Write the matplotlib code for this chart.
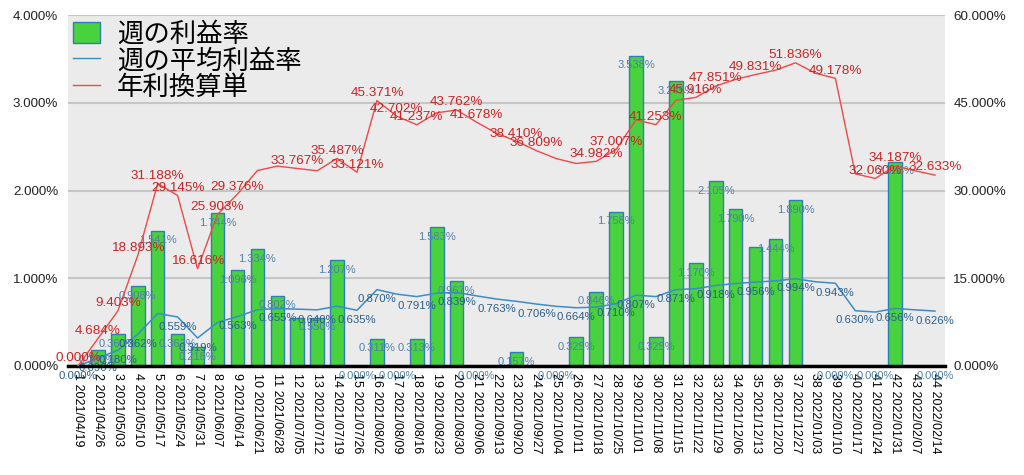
import matplotlib
matplotlib.use("Agg")
import matplotlib.pyplot as plt
from matplotlib.patches import Patch
from matplotlib.lines import Line2D

plt.rcParams['font.family'] = ['Liberation Sans', 'Noto Sans CJK JP', 'DejaVu Sans']

weeks = list(range(1, 45))
dates = ['2021/04/19', '2021/04/26', '2021/05/03', '2021/05/10', '2021/05/17', '2021/05/24',
         '2021/05/31', '2021/06/07', '2021/06/14', '2021/06/21', '2021/06/28', '2021/07/05',
         '2021/07/12', '2021/07/19', '2021/07/26', '2021/08/02', '2021/08/09', '2021/08/16',
         '2021/08/23', '2021/08/30', '2021/09/06', '2021/09/13', '2021/09/20', '2021/09/27',
         '2021/10/04', '2021/10/11', '2021/10/18', '2021/10/25', '2021/11/01', '2021/11/08',
         '2021/11/15', '2021/11/22', '2021/11/29', '2021/12/06', '2021/12/13', '2021/12/20',
         '2021/12/27', '2022/01/03', '2022/01/10', '2022/01/17', '2022/01/24', '2022/01/31',
         '2022/02/07', '2022/02/14']

# 週の利益率 (%)
weekly = [0.000, 0.180, 0.360, 0.908, 1.541, 0.363, 0.218, 1.744, 1.096, 1.334,
          0.802, 0.548, 0.550, 1.207, 0.000, 0.311, 0.000, 0.313, 1.583, 0.967,
          0.000, 0.000, 0.157, 0.000, 0.000, 0.325, 0.846, 1.758, 3.538, 0.325,
          3.245, 1.170, 2.105, 1.790, 1.355, 1.444, 1.890, 0.000, 0.000, 0.000,
          0.000, 2.328, 0.000, 0.000]

# 週の平均利益率 (%)
avg = [0.000, 0.090, 0.180, 0.362, 0.598, 0.559, 0.319, 0.497, 0.563, 0.641,
       0.655, 0.648, 0.640, 0.681, 0.635, 0.870, 0.819, 0.791, 0.830, 0.839,
       0.799, 0.763, 0.737, 0.706, 0.680, 0.664, 0.671, 0.710, 0.807, 0.791,
       0.871, 0.881, 0.918, 0.940, 0.956, 0.970, 0.994, 0.960, 0.943, 0.630,
       0.615, 0.656, 0.640, 0.626]

# 年利換算単 (%)
annual = [0.000, 4.684, 9.403, 18.893, 31.188, 29.145, 16.616, 25.903, 29.376, 33.410,
          34.170, 33.767, 33.370, 35.487, 33.121, 45.371, 42.702, 41.237, 43.280, 43.762,
          41.678, 39.780, 38.410, 36.809, 35.450, 34.620, 34.982, 37.007, 42.080, 41.253,
          45.410, 45.916, 47.851, 49.010, 49.831, 50.570, 51.836, 50.050, 49.178, 32.850,
          32.060, 34.187, 33.370, 32.633]

# weeks whose value labels are visible in the original
bar_shown = [2, 3, 4, 5, 6, 7, 8, 9, 10, 11, 13, 14, 15, 16, 17, 18, 19, 20, 21, 23, 25, 26,
             27, 28, 29, 30, 31, 32, 33, 34, 36, 37, 39, 41, 42, 44]
avg_shown = [1, 2, 3, 4, 6, 7, 9, 11, 13, 15, 16, 18, 20, 22, 24, 26, 28, 29, 31, 33, 35,
             37, 39, 40, 42, 44]
ann_shown = [1, 2, 3, 4, 5, 6, 7, 8, 9, 12, 14, 15, 16, 17, 18, 20, 21, 23, 24, 27, 28, 30,
             32, 33, 35, 37, 39, 41, 42, 44]

green = '#48d23e'
bar_edge = '#2f7db5'
blue = '#3a8cca'
red = '#f24848'

fig = plt.figure(figsize=(10.24, 4.75), dpi=100)
ax = fig.add_axes([68 / 1024, 109 / 475, 877 / 1024, 351 / 475])
ax.set_facecolor('#ebebeb')

ax.bar(weeks, weekly, width=0.68, color=green, edgecolor=bar_edge, linewidth=1, zorder=2)
ax.plot(weeks, avg, color=blue, lw=1.1, zorder=3)

ax.set_xlim(0.5, 44.5)
ax.set_ylim(0, 4)
ax.set_yticks([0, 1, 2, 3, 4])
ax.set_yticklabels(['%.3f%%' % v for v in [0, 1, 2, 3, 4]], fontsize=9.6, color='#222222')
ax.yaxis.grid(True, color='#c6c6c6', lw=1.5)
ax.set_axisbelow(True)
ax.set_xticks(weeks)
ax.set_xticklabels(['%d %s' % (w, d) for w, d in zip(weeks, dates)], rotation=270,
                   fontsize=9, va='top', ha='center')
ax.tick_params(length=0)
ax.tick_params(axis='y', pad=7)
ax.tick_params(axis='x', pad=5)
for s in ['left', 'right', 'top']:
    ax.spines[s].set_visible(False)
ax.spines['bottom'].set_color('black')
ax.spines['bottom'].set_linewidth(2.5)
ax.spines['bottom'].set_zorder(5)

for w in bar_shown:
    ax.annotate('%.3f%%' % weekly[w - 1], (w, weekly[w - 1]), xytext=(0, -7),
                textcoords='offset points', ha='center', va='center', fontsize=8,
                color='#4f80aa', zorder=4, annotation_clip=False)
for w in avg_shown:
    ax.annotate('%.3f%%' % avg[w - 1], (w, avg[w - 1]), xytext=(0, -7),
                textcoords='offset points', ha='center', va='center', fontsize=8.2,
                color='#2b5f8c', zorder=4, annotation_clip=False)

ax2 = ax.twinx()
ax2.patch.set_visible(False)
ax2.plot(weeks, annual, color=red, lw=1.0)
ax2.set_ylim(0, 60)
ax2.set_yticks([0, 15, 30, 45, 60])
ax2.set_yticklabels(['%.3f%%' % v for v in [0, 15, 30, 45, 60]], fontsize=9.6, color='#222222')
ax2.tick_params(length=0, pad=6)
for s in ax2.spines.values():
    s.set_visible(False)
for w in ann_shown:
    ax2.annotate('%.3f%%' % annual[w - 1], (w, annual[w - 1]), xytext=(0, 5.5),
                 textcoords='offset points', ha='center', va='center', fontsize=9.7,
                 color='#cc2424', annotation_clip=False)

handles = [Patch(facecolor=green, edgecolor=bar_edge, linewidth=1),
           Line2D([], [], color=blue, lw=1),
           Line2D([], [], color=red, lw=1)]
leg = ax2.legend(handles, ['週の利益率', '週の平均利益率', '年利換算単'],
                 loc='upper left', bbox_to_anchor=(0, 1), borderaxespad=0.1,
                 borderpad=0.1, frameon=False, handlelength=1.0, handleheight=0.85,
                 handletextpad=0.65, labelspacing=0.0,
                 prop={'family': 'Noto Sans CJK JP', 'size': 19})

fig.savefig('out.png', dpi=100, facecolor='white')
